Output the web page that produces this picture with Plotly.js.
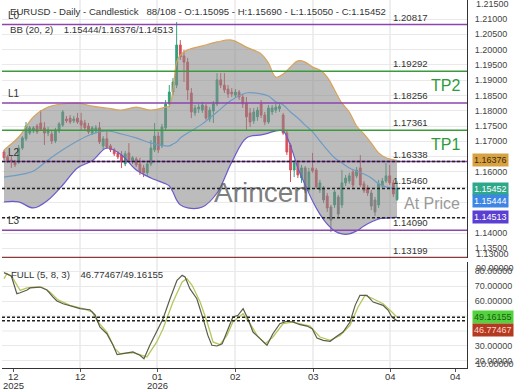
<!DOCTYPE html>
<html>
<head>
<meta charset="utf-8">
<script src="https://cdn.plot.ly/plotly-3.0.1.min.js"></script>
<style>html,body{margin:0;padding:0;background:#fff;}#chart{width:520px;height:390px;}</style>
</head>
<body>
<div id="chart"></div>
<script>
// ---------- DATA ----------
const openP = [1.1665,1.1649,1.1639,1.1632,1.1632,1.1678,1.1708,1.1727,1.1734,1.1750,
1.1760,1.1744,1.1727,1.1724,1.1701,1.1734,1.1753,1.1773,1.1776,1.1767,
1.1776,1.1767,1.1760,1.1750,1.1727,1.1734,1.1744,1.1685,1.1708,1.1685,
1.1672,1.1662,1.1655,1.1626,1.1662,1.1636,1.1642,1.1626,1.1613,1.1597,
1.1626,1.1672,1.1717,1.1685,1.1744,1.1822,1.1861,1.1884,1.2015,1.1979,
1.1959,1.1858,1.1793,1.1806,1.1802,1.1815,1.1773,1.1799,1.1822,1.1901,
1.1884,1.1871,1.1861,1.1851,1.1861,1.1845,1.1825,1.1793,1.1767,1.1780,
1.1822,1.1786,1.1763,1.1796,1.1802,1.1806,1.1786,1.1727,1.1688,1.1606,
1.1629,1.1580,1.1613,1.1541,1.1613,1.1606,1.1541,1.1548,1.1521,1.1485,
1.1492,1.1518,1.1492,1.1564,1.1570,1.1600,1.1587,1.1613,1.1561,1.1548,
1.1531,1.1508,1.1492,1.1554,1.1570,1.1587,1.1564,1.15095];
const highP = [1.1672,1.1655,1.1655,1.1639,1.1688,1.1717,1.1763,1.1750,1.1750,1.1757,
1.1802,1.1763,1.1747,1.1734,1.1744,1.1763,1.1802,1.1783,1.1786,1.1783,
1.1793,1.1793,1.1770,1.1760,1.1750,1.1753,1.1763,1.1717,1.1737,1.1691,
1.1678,1.1668,1.1668,1.1668,1.1694,1.1652,1.1649,1.1646,1.1623,1.1636,
1.1704,1.1760,1.1731,1.1757,1.1835,1.1884,1.1907,1.2090,1.2031,1.1999,
1.1973,1.1874,1.1819,1.1822,1.1829,1.1822,1.1812,1.1832,1.1923,1.1923,
1.1923,1.1884,1.1874,1.1871,1.1868,1.1855,1.1845,1.1809,1.1809,1.1812,
1.1835,1.1796,1.1819,1.1819,1.1822,1.1822,1.1793,1.1737,1.1694,1.1639,
1.1639,1.1623,1.1619,1.1613,1.1662,1.1613,1.1574,1.1554,1.1531,1.1492,
1.1541,1.1525,1.1606,1.1590,1.1597,1.1606,1.1616,1.1655,1.1570,1.1557,
1.1541,1.1518,1.1574,1.1580,1.1629,1.1623,1.1574,1.15690];
const lowP = [1.1639,1.1629,1.1613,1.1616,1.1626,1.1672,1.1701,1.1721,1.1727,1.1724,
1.1734,1.1688,1.1717,1.1691,1.1694,1.1727,1.1747,1.1760,1.1757,1.1760,
1.1757,1.1737,1.1734,1.1724,1.1721,1.1727,1.1691,1.1672,1.1675,1.1665,
1.1652,1.1642,1.1613,1.1619,1.1632,1.1626,1.1616,1.1590,1.1583,1.1587,
1.1619,1.1665,1.1662,1.1678,1.1734,1.1812,1.1851,1.1874,1.1966,1.1894,
1.1835,1.1776,1.1783,1.1793,1.1793,1.1770,1.1763,1.1760,1.1815,1.1874,
1.1858,1.1842,1.1845,1.1842,1.1835,1.1809,1.1737,1.1747,1.1757,1.1767,
1.1776,1.1753,1.1757,1.1786,1.1793,1.1796,1.1721,1.1655,1.1567,1.1583,
1.1580,1.1564,1.1531,1.1534,1.1597,1.1544,1.1531,1.1498,1.1469,1.1403,
1.1482,1.1449,1.1482,1.1554,1.1561,1.1548,1.1580,1.1551,1.1531,1.1521,
1.1475,1.1456,1.1482,1.1548,1.1564,1.1557,1.1518,1.15050];
const closeP = [1.1646,1.1636,1.1632,1.1623,1.1678,1.1711,1.1750,1.1744,1.1744,1.1731,
1.1740,1.1727,1.1737,1.1701,1.1737,1.1757,1.1796,1.1767,1.1763,1.1773,
1.1763,1.1753,1.1744,1.1731,1.1744,1.1744,1.1698,1.1708,1.1681,1.1672,
1.1659,1.1649,1.1632,1.1659,1.1639,1.1646,1.1623,1.1600,1.1597,1.1626,
1.1678,1.1717,1.1672,1.1747,1.1822,1.1861,1.1894,1.2015,1.1976,1.1959,
1.1868,1.1796,1.1809,1.1812,1.1819,1.1776,1.1802,1.1822,1.1901,1.1884,
1.1868,1.1855,1.1855,1.1861,1.1845,1.1822,1.1780,1.1763,1.1796,1.1802,
1.1786,1.1763,1.1809,1.1809,1.1812,1.1815,1.1727,1.1665,1.1606,1.1629,
1.1590,1.1613,1.1541,1.1600,1.1603,1.1551,1.1564,1.1508,1.1482,1.1442,
1.1534,1.1462,1.1564,1.1580,1.1587,1.1557,1.1606,1.1557,1.1538,1.1531,
1.1488,1.1469,1.1561,1.1570,1.1587,1.1564,1.1528,1.15452];
const greyBars = [82,87,89,91,100,101];

const bbBars   = [0,4,8,12,16,20,24,28,32,36,40,44,45,46,47,48,50,54,58,62,66,70,72,74,76,78,80,82,84,86,88,90,92,94,96,98,100,102,104,107];
const bbUpper  = [1.1672,1.1714,1.1780,1.1812,1.1822,1.1825,1.1815,1.1809,1.1802,1.1812,1.1802,1.1812,1.1815,1.1868,1.1959,1.1982,1.1999,1.2012,1.2025,1.2031,1.2008,1.1986,1.1956,1.1910,1.1920,1.1943,1.1963,1.1959,1.1943,1.1933,1.1910,1.1868,1.1825,1.1796,1.1750,1.1724,1.1694,1.1662,1.1646,1.16376];
const bbMiddle = [1.1583,1.1590,1.1603,1.1639,1.1672,1.1701,1.1724,1.1734,1.1724,1.1711,1.1694,1.1685,1.1685,1.1691,1.1698,1.1711,1.1727,1.1757,1.1796,1.1835,1.1858,1.1855,1.1848,1.1829,1.1819,1.1796,1.1776,1.1753,1.1731,1.1701,1.1672,1.1646,1.1629,1.1613,1.1603,1.1593,1.1580,1.1561,1.1551,1.15444];
const bbLower  = [1.1502,1.1502,1.1482,1.1508,1.1557,1.1613,1.1636,1.1678,1.1655,1.1606,1.1580,1.1561,1.1554,1.1534,1.1508,1.1492,1.1482,1.1485,1.1531,1.1632,1.1711,1.1721,1.1727,1.1734,1.1734,1.1685,1.1613,1.1557,1.1505,1.1462,1.1429,1.1407,1.1397,1.1397,1.1407,1.1423,1.1436,1.1446,1.1449,1.14513];

const kBars = [0,2,3.5,4.4,6.3,7.1,9.8,11.7,13.3,14.4,16.1,18,20.7,23.4,24.8,26.1,28,29.7,30.8,32.4,35.1,37,38.1,39.7,41.6,43.3,45.2,47.1,48.5,49.3,50.6,52.5,54.2,55.5,56.6,58,59.4,61,62.3,63.7,65.1,66.4,67.8,69.7,71.6,73.2,75.1,77,78.7,80.6,82.5,83.9,85.2,86.9,88.8,90.7,92.3,94.2,95.6,96.9,98.8,100.5,103.2,104.6,105.6,107];
const kVals = [78.9,76.7,64.9,65.5,67.3,68.7,69.3,67.3,62.7,60,58.2,56.7,54.9,54.2,50.7,42.7,38.2,30.5,24.2,24.9,26,23.8,21.5,30.5,39.3,48.2,61.5,73.8,77.1,76,68.2,61.5,48.2,37.1,30.5,30,31.5,41.5,49.3,50.5,54.9,48.2,39.3,34.9,30.5,38.2,44.9,46.5,46,44.2,43.3,41.5,35.3,33.8,33.1,36.7,39.3,46,57.1,63.8,63.8,59.3,57.1,53.8,49.3,46.77467];
const dBars = [0,0.8,2.2,4.4,6.3,7.9,10.3,12.5,14.7,18,21.5,24,25.6,28,30.2,31.6,35.1,37.6,38.9,41.6,43.3,46,48.5,49.8,51.2,53.4,55.3,56.9,58.8,60.7,62.3,65.1,67,68.9,71.1,73.2,76,78.4,80.6,83.3,86,88.8,91.5,94.2,96.4,98.3,100.5,103.2,105.6,107];
const dVals = [74.9,78.2,76,67.1,68.7,69.3,69.3,66,60.7,57.1,54.9,52.7,46,39.3,28.2,24.9,25.5,23.8,22.7,32.7,41.5,59.3,72.7,74.9,70.5,59.3,46,32.7,30.9,37.1,46,51.5,44.9,37.1,31.5,36,44.9,46,44.9,43.3,36,33.8,37.1,43.8,56,63.8,61.5,58.2,52.7,49.16155];

const purpleLevels = [1.20817, 1.18256, 1.16338, 1.14090];
const purpleNames  = ['L0', 'L1', 'L2', 'L3'];
const greenLevels  = [1.19292, 1.17361];
const greenNames   = ['TP2', 'TP1'];
const dashedLevels = [1.16338, 1.15460, 1.14500];
const brownLevel   = 1.13199;
const levelLabels  = [1.20817, 1.19292, 1.18256, 1.17361, 1.16338, 1.15460, 1.14090, 1.13199];
const stochLevels  = [49.16155, 46.77467];

const priceTicks = [1.135,1.14,1.16,1.165,1.17,1.175,1.18,1.185,1.19,1.195,1.2,1.205,1.21];
const stochTicks = [20,30,60,70,80];
const xTickBars  = [2.72, 20.69, 41.66, 62.89, 84.13, 105.09, 122.8];
const xTickMonth = ['12', '12', '01', '02', '03', '04', '04'];
const xTickYear  = ['2025', '', '2026', '', '', '', ''];
const gridBars   = [20.69, 41.66, 62.89, 84.13, 105.09];

const header = 'EURUSD - Daily - Candlestick   88/108 - O:1.15095 - H:1.15690 - L:1.15050 - C:1.15452';
const bbText = 'BB (20, 2)    1.15444/1.16376/1.14513';
const stText = 'FULL (5, 8, 3)    46.77467/49.16155';

// ---------- BUILD ----------
const FONT = 'Liberation Sans, Arial, sans-serif';
const INC = '#33a07b', DEC = '#d6505c', GREY = '#7a7a7a';
const idx = openP.map((_, i) => i);
function sel(keepGrey) {
  const o = {x: [], open: [], high: [], low: [], close: []};
  idx.forEach(i => {
    if (greyBars.includes(i) === keepGrey) {
      o.x.push(i); o.open.push(openP[i]); o.high.push(highP[i]); o.low.push(lowP[i]); o.close.push(closeP[i]);
    }
  });
  return o;
}
const main = sel(false), grey = sel(true);

const traces = [
  {type: 'scatter', mode: 'lines', x: bbBars, y: bbUpper, line: {color: '#d9a35a', width: 1.2, shape: 'spline'}, hoverinfo: 'skip', xaxis: 'x', yaxis: 'y'},
  {type: 'scatter', mode: 'lines', x: bbBars, y: bbLower, line: {color: '#6a5acd', width: 1.2, shape: 'spline'}, fill: 'tonexty', fillcolor: 'rgba(135,135,135,0.56)', hoverinfo: 'skip', xaxis: 'x', yaxis: 'y'},
  {type: 'scatter', mode: 'lines', x: bbBars, y: bbMiddle, line: {color: '#6e9cc4', width: 1.2, shape: 'spline'}, hoverinfo: 'skip', xaxis: 'x', yaxis: 'y'},
  Object.assign({type: 'candlestick', xaxis: 'x', yaxis: 'y', whiskerwidth: 0, hoverinfo: 'skip',
    increasing: {line: {color: INC, width: 1}, fillcolor: INC},
    decreasing: {line: {color: DEC, width: 1}, fillcolor: DEC}}, main),
  Object.assign({type: 'candlestick', xaxis: 'x', yaxis: 'y', whiskerwidth: 0, hoverinfo: 'skip',
    increasing: {line: {color: GREY, width: 1}, fillcolor: GREY},
    decreasing: {line: {color: GREY, width: 1}, fillcolor: GREY}}, grey),
  {type: 'scatter', mode: 'lines', x: dBars, y: dVals, line: {color: '#b7c65c', width: 1.3}, hoverinfo: 'skip', xaxis: 'x2', yaxis: 'y2'},
  {type: 'scatter', mode: 'lines', x: kBars, y: kVals, line: {color: '#5d5d4c', width: 1.2}, hoverinfo: 'skip', xaxis: 'x2', yaxis: 'y2'}
];

const shapes = [];
gridBars.forEach(b => shapes.push({type: 'line', xref: 'x', yref: 'paper', x0: b, x1: b, y0: 0, y1: 1, line: {color: '#dedede', width: 1}, layer: 'below'}));
purpleLevels.forEach(v => shapes.push({type: 'line', xref: 'paper', yref: 'y', x0: 0, x1: 1, y0: v, y1: v, line: {color: '#8e44ad', width: 1.5}}));
greenLevels.forEach(v => shapes.push({type: 'line', xref: 'paper', yref: 'y', x0: 0, x1: 1, y0: v, y1: v, line: {color: '#3c9a3c', width: 1.3}}));
dashedLevels.forEach(v => shapes.push({type: 'line', xref: 'paper', yref: 'y', x0: 0, x1: 1, y0: v, y1: v, line: {color: '#222', width: 1.5, dash: '3px,2px'}}));
shapes.push({type: 'line', xref: 'paper', yref: 'y', x0: 0, x1: 1, y0: brownLevel, y1: brownLevel, line: {color: '#8b3a3a', width: 1.5}});
stochLevels.forEach(v => shapes.push({type: 'line', xref: 'paper', yref: 'y2', x0: 0, x1: 1, y0: v, y1: v, line: {color: '#222', width: 1.5, dash: '3px,2px'}}));

const ann = [];
const txt = (o) => Object.assign({showarrow: false, font: {family: FONT, size: 9.6, color: '#333'}}, o);
ann.push(txt({text: header, xref: 'paper', x: 0, xshift: 6, xanchor: 'left', yref: 'y', y: 1.2123, yanchor: 'middle'}));
ann.push(txt({text: bbText, xref: 'paper', x: 0, xshift: 6, xanchor: 'left', yref: 'y', y: 1.2066, yanchor: 'middle'}));
ann.push(txt({text: stText, xref: 'paper', x: 0, xshift: 7, xanchor: 'left', yref: 'y2', y: 78, yanchor: 'middle'}));
purpleLevels.forEach((v, k) => ann.push(txt({text: purpleNames[k], font: {family: FONT, size: 10, color: '#333'}, xref: 'paper', x: 0, xshift: 4, xanchor: 'left', yref: 'y', y: v, yanchor: 'bottom', yshift: 2})));
levelLabels.forEach(v => ann.push(txt({text: v.toFixed(5), xref: 'x', x: gridBars[4], xshift: 1, xanchor: 'left', yref: 'y', y: v, yanchor: 'bottom', yshift: 0})));
ann.push(txt({text: greenNames[0], font: {family: FONT, size: 16, color: '#2e9b3a'}, xref: 'x', x: 120.3, yref: 'y', y: 1.1881, yanchor: 'middle'}));
ann.push(txt({text: greenNames[1], font: {family: FONT, size: 16, color: '#2e9b3a'}, xref: 'x', x: 120.3, yref: 'y', y: 1.1691, yanchor: 'middle'}));
ann.push(txt({text: 'At Price', font: {family: FONT, size: 16, color: '#9a9a9a'}, xref: 'x', x: 116.5, yref: 'y', y: 1.1498, yanchor: 'middle'}));
ann.push(txt({text: 'Arincen', font: {family: FONT, size: 28, color: 'rgba(85,85,85,0.75)'}, xref: 'x', x: 56.6, xanchor: 'left', yref: 'y', y: 1.1531, yanchor: 'middle'}));

// x-axis month / year labels
xTickBars.forEach((b, k) => {
  ann.push(txt({text: xTickMonth[k], font: {family: FONT, size: 9.5, color: '#333'}, xref: 'x2', x: b, yref: 'paper', y: 0, yanchor: 'middle', yshift: -8}));
  if (xTickYear[k]) ann.push(txt({text: xTickYear[k], font: {family: FONT, size: 9.5, color: '#333'}, xref: 'x2', x: b, yref: 'paper', y: 0, yanchor: 'middle', yshift: -17}));
});

function tag(text, yref, y, bg, fg, ys) {
  ann.push({text: text, showarrow: false, xref: 'paper', x: 1, xanchor: 'left', xshift: 5, yref: yref, y: y, yanchor: 'middle', yshift: ys || 0,
    bgcolor: bg, borderpad: 1, font: {family: FONT, size: 9, color: fg}});
}
tag('1.16376', 'y', 1.16376, '#d8a142', '#3a2a10');
tag('1.15452', 'y', 1.15452, '#2fa88a', '#ffffff');
tag('1.15444', 'y', 1.15444, '#3d86e4', '#ffffff', -12);
tag('1.14513', 'y', 1.14513, '#5b3fd2', '#ffffff');
tag('49.16155', 'y2', 49.16155, '#52d23c', '#1d5a12');
tag('46.77467', 'y2', 46.77467, '#b3391f', '#ffd6d6', -9);
// edge tick labels squeezed against the panel borders
const edge = (text, yref, y) => ann.push({text: text, showarrow: false, xref: 'paper', x: 1, xanchor: 'left', xshift: 7, yref: yref, y: y, yanchor: 'middle', font: {family: FONT, size: 9, color: '#444'}});
edge('1.21500', 'y', 1.215);
edge('1.13000', 'y', 1.1331);
edge('90.00000', 'y2', 82);
edge('10.00000', 'y2', 18);

const layout = {
  width: 520, height: 390,
  margin: {l: 2, r: 53, t: 0, b: 22},
  paper_bgcolor: '#ffffff', plot_bgcolor: '#ffffff',
  showlegend: false,
  font: {family: FONT, size: 9, color: '#444'},
  xaxis: {domain: [0, 1], anchor: 'y', range: [-0.545, 126.05], showticklabels: false, showgrid: false, zeroline: false, rangeslider: {visible: false}, fixedrange: true},
  xaxis2: {domain: [0, 1], anchor: 'y2', range: [-0.545, 126.05], tickmode: 'array', tickvals: xTickBars, showticklabels: false,
    showgrid: false, zeroline: false, showline: true, linecolor: '#333', linewidth: 1, ticks: 'outside', ticklen: 3, tickcolor: '#555', fixedrange: true},
  yaxis: {domain: [0.2989, 1], anchor: 'x', side: 'right', range: [1.13183, 1.21622], tickmode: 'array', tickvals: priceTicks, tickformat: '.5f',
    gridcolor: '#e9e9e9', zeroline: false, showline: true, linecolor: '#333', linewidth: 1, ticks: 'outside', ticklen: 5, tickcolor: 'rgba(0,0,0,0)',
    tickfont: {family: FONT, size: 9, color: '#444'}, fixedrange: true},
  yaxis2: {domain: [0, 0.288], anchor: 'x2', side: 'right', range: [15.33, 86], tickmode: 'array', tickvals: stochTicks, tickformat: '.5f',
    gridcolor: '#e9e9e9', zeroline: false, showline: true, linecolor: '#333', linewidth: 1, ticks: 'outside', ticklen: 5, tickcolor: 'rgba(0,0,0,0)',
    tickfont: {family: FONT, size: 9, color: '#444'}, fixedrange: true},
  shapes: shapes,
  annotations: ann
};
// grid lines for the price levels hidden behind the tags
[1.145, 1.15, 1.155].forEach(v => shapes.push({type: 'line', xref: 'paper', yref: 'y', x0: 0, x1: 1, y0: v, y1: v, line: {color: '#e9e9e9', width: 1}, layer: 'below'}));
[40, 50].forEach(v => shapes.push({type: 'line', xref: 'paper', yref: 'y2', x0: 0, x1: 1, y0: v, y1: v, line: {color: '#e9e9e9', width: 1}, layer: 'below'}));

Plotly.newPlot('chart', traces, layout, {staticPlot: true, displayModeBar: false});
</script>
</body>
</html>
